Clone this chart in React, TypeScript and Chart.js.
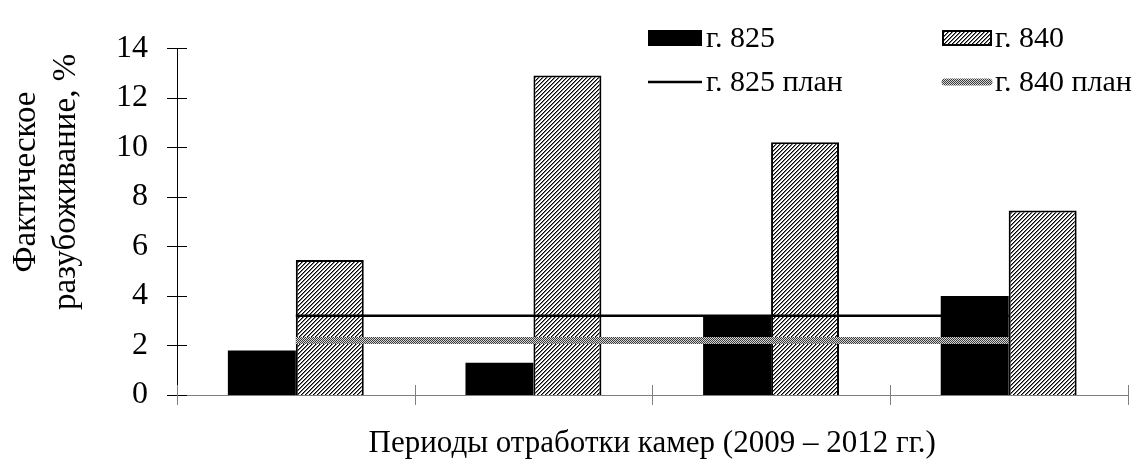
import React, { useEffect, useRef } from 'react';
import { Chart, registerables } from 'chart.js';

Chart.register(...registerables);

const categories = ['Период 1', 'Период 2', 'Период 3', 'Период 4'];
const actual825 = [1.8, 1.3, 3.2, 4.0];
const actual840 = [5.45, 12.9, 10.2, 7.45];
const plan825 = [3.2, 3.2, 3.2, 3.2];
const plan840 = [2.2, 2.2, 2.2, 2.2];
const seriesLabels = ['г. 825', 'г. 840', 'г. 825 план', 'г. 840 план'];
const yMin = 0;
const yMax = 14;
const yStep = 2;
const xTitle = 'Периоды отработки камер (2009 – 2012 гг.)';
const yTitle = ['Фактическое', 'разубоживание, %'];

const FONT = "'Liberation Serif', 'Times New Roman', serif";

function makeHatch(ctx: CanvasRenderingContext2D): CanvasPattern | string {
  const c = document.createElement('canvas');
  c.width = 4;
  c.height = 4;
  const g = c.getContext('2d')!;
  g.fillStyle = '#ffffff';
  g.fillRect(0, 0, 4, 4);
  for (let i = 0; i < 4; i++) {
    g.fillStyle = '#000000';
    g.fillRect(i, 3 - i, 1, 1);
    g.fillStyle = '#7a7a7a';
    g.fillRect(i, (4 - i) % 4, 1, 1);
  }
  return ctx.createPattern(c, 'repeat') || '#888';
}

function makeChecker(ctx: CanvasRenderingContext2D): CanvasPattern | string {
  const c = document.createElement('canvas');
  c.width = 2;
  c.height = 2;
  const g = c.getContext('2d')!;
  g.fillStyle = '#d8d8d8';
  g.fillRect(0, 0, 2, 2);
  g.fillStyle = '#3a3a3a';
  g.fillRect(0, 0, 1, 1);
  g.fillRect(1, 1, 1, 1);
  return ctx.createPattern(c, 'repeat') || '#888';
}

const axisDecor = {
  id: 'axisDecor',
  afterDatasetsDraw(chart: any) {
    const ctx = chart.ctx as CanvasRenderingContext2D;
    const x = chart.scales.x;
    const y = chart.scales.y;
    const area = chart.chartArea;
    ctx.save();
    ctx.strokeStyle = '#000';
    ctx.lineWidth = 1;
    y.ticks.forEach((t: any) => {
      const py = Math.round(y.getPixelForValue(t.value)) + 0.5;
      ctx.beginPath();
      ctx.moveTo(area.left - 10, py);
      ctx.lineTo(area.left + 10, py);
      ctx.stroke();
    });
    ctx.strokeStyle = '#7f7f7f';
    const baseY = y.getPixelForValue(0);
    for (let i = 0; i <= categories.length; i++) {
      const px = Math.round(x.getPixelForValue(i - 0.5)) + 0.5;
      ctx.beginPath();
      ctx.moveTo(px, baseY - 10);
      ctx.lineTo(px, baseY + 10);
      ctx.stroke();
    }
    ctx.restore();
  },
  afterDraw(chart: any) {
    const ctx = chart.ctx as CanvasRenderingContext2D;
    const area = chart.chartArea;
    const ds = chart.data.datasets;
    ctx.save();
    ctx.fillStyle = '#000';
    ctx.textAlign = 'center';
    ctx.textBaseline = 'middle';
    ctx.font = `31px ${FONT}`;
    ctx.fillText(xTitle, (area.left + area.right) / 2, 444);
    ctx.font = `33px ${FONT}`;
    const yCenter = 182;
    const yCols = [26, 66];
    yTitle.forEach((line, i) => {
      ctx.save();
      ctx.translate(yCols[i], yCenter);
      ctx.rotate(-Math.PI / 2);
      ctx.fillText(line, 0, 0);
      ctx.restore();
    });

    ctx.font = `30px ${FONT}`;
    ctx.textAlign = 'left';
    const cols = [648, 942];
    const rows = [38, 82];
    const boxW = [54, 50];
    ctx.fillStyle = ds[0].backgroundColor;
    ctx.fillRect(cols[0], rows[0] - 8, boxW[0], 16);
    ctx.fillStyle = ds[1].backgroundColor;
    ctx.fillRect(cols[1], rows[0] - 8, boxW[1], 16);
    ctx.strokeStyle = '#000';
    ctx.lineWidth = 2;
    ctx.strokeRect(cols[1] + 1, rows[0] - 7, boxW[1] - 2, 14);
    ctx.strokeStyle = ds[2].borderColor;
    ctx.lineWidth = ds[2].borderWidth;
    ctx.beginPath();
    ctx.moveTo(cols[0], rows[1]);
    ctx.lineTo(cols[0] + boxW[0], rows[1]);
    ctx.stroke();
    ctx.strokeStyle = ds[3].borderColor;
    ctx.lineWidth = ds[3].borderWidth;
    ctx.lineCap = 'round';
    ctx.beginPath();
    ctx.moveTo(cols[1] + 3, rows[1]);
    ctx.lineTo(cols[1] + boxW[1] - 3, rows[1]);
    ctx.stroke();
    ctx.fillStyle = '#000';
    const textX = [706, 995];
    ctx.fillText(ds[0].label, textX[0], rows[0] + 1);
    ctx.fillText(ds[1].label, textX[1], rows[0] + 1);
    ctx.fillText(ds[2].label, textX[0], rows[1] + 1);
    ctx.fillText(ds[3].label, textX[1], rows[1] + 1);
    ctx.restore();
  },
};

export default function App() {
  const canvasRef = useRef<HTMLCanvasElement | null>(null);

  useEffect(() => {
    const canvas = canvasRef.current;
    if (!canvas) return;
    const ctx = canvas.getContext('2d')!;
    const hatch = makeHatch(ctx);
    const checker = makeChecker(ctx);
    Chart.defaults.color = '#000';

    const chart = new Chart(ctx, {
      type: 'bar',
      data: {
        labels: categories,
        datasets: [
          {
            type: 'bar',
            label: seriesLabels[0],
            data: actual825,
            backgroundColor: '#000000',
            borderColor: '#000000',
            borderWidth: 0,
            order: 2,
          },
          {
            type: 'bar',
            label: seriesLabels[1],
            data: actual840,
            backgroundColor: hatch as any,
            borderColor: '#000000',
            borderWidth: 2,
            order: 2,
          },
          {
            type: 'line',
            label: seriesLabels[2],
            data: plan825,
            borderColor: '#000000',
            borderWidth: 2.5,
            pointRadius: 0,
            fill: false,
            order: 1,
          },
          {
            type: 'line',
            label: seriesLabels[3],
            data: plan840,
            borderColor: checker as any,
            borderWidth: 7,
            pointRadius: 0,
            fill: false,
            order: 0,
          },
        ] as any,
      },
      options: {
        responsive: false,
        maintainAspectRatio: false,
        animation: false,
        devicePixelRatio: 1,
        layout: { padding: { left: 0, right: 13.5, top: 21.7, bottom: 0 } },
        plugins: {
          legend: { display: false },
          tooltip: { enabled: false },
          title: { display: false },
        },
        datasets: {
          bar: { categoryPercentage: 0.572, barPercentage: 1.0 },
        },
        scales: {
          x: {
            offset: true,
            grid: { display: false, drawTicks: false },
            border: { display: true, color: '#7f7f7f', width: 1 },
            ticks: { display: false },
            afterFit: (s: any) => {
              s.height = 75;
            },
          },
          y: {
            min: yMin,
            max: yMax,
            grid: { display: false, drawTicks: false },
            border: { display: true, color: '#000', width: 1 },
            ticks: {
              stepSize: yStep,
              padding: 29,
              color: '#000',
              font: { family: FONT, size: 32 },
            },
            afterFit: (s: any) => {
              s.width = 177;
            },
          },
        },
      } as any,
      plugins: [axisDecor],
    });
    return () => chart.destroy();
  }, []);

  return (
    <div style={{ position: 'fixed', left: 0, top: 0, width: 1141, height: 470, background: '#fff' }}>
      <canvas ref={canvasRef} width={1141} height={470} style={{ width: 1141, height: 470, display: 'block' }} />
    </div>
  );
}
